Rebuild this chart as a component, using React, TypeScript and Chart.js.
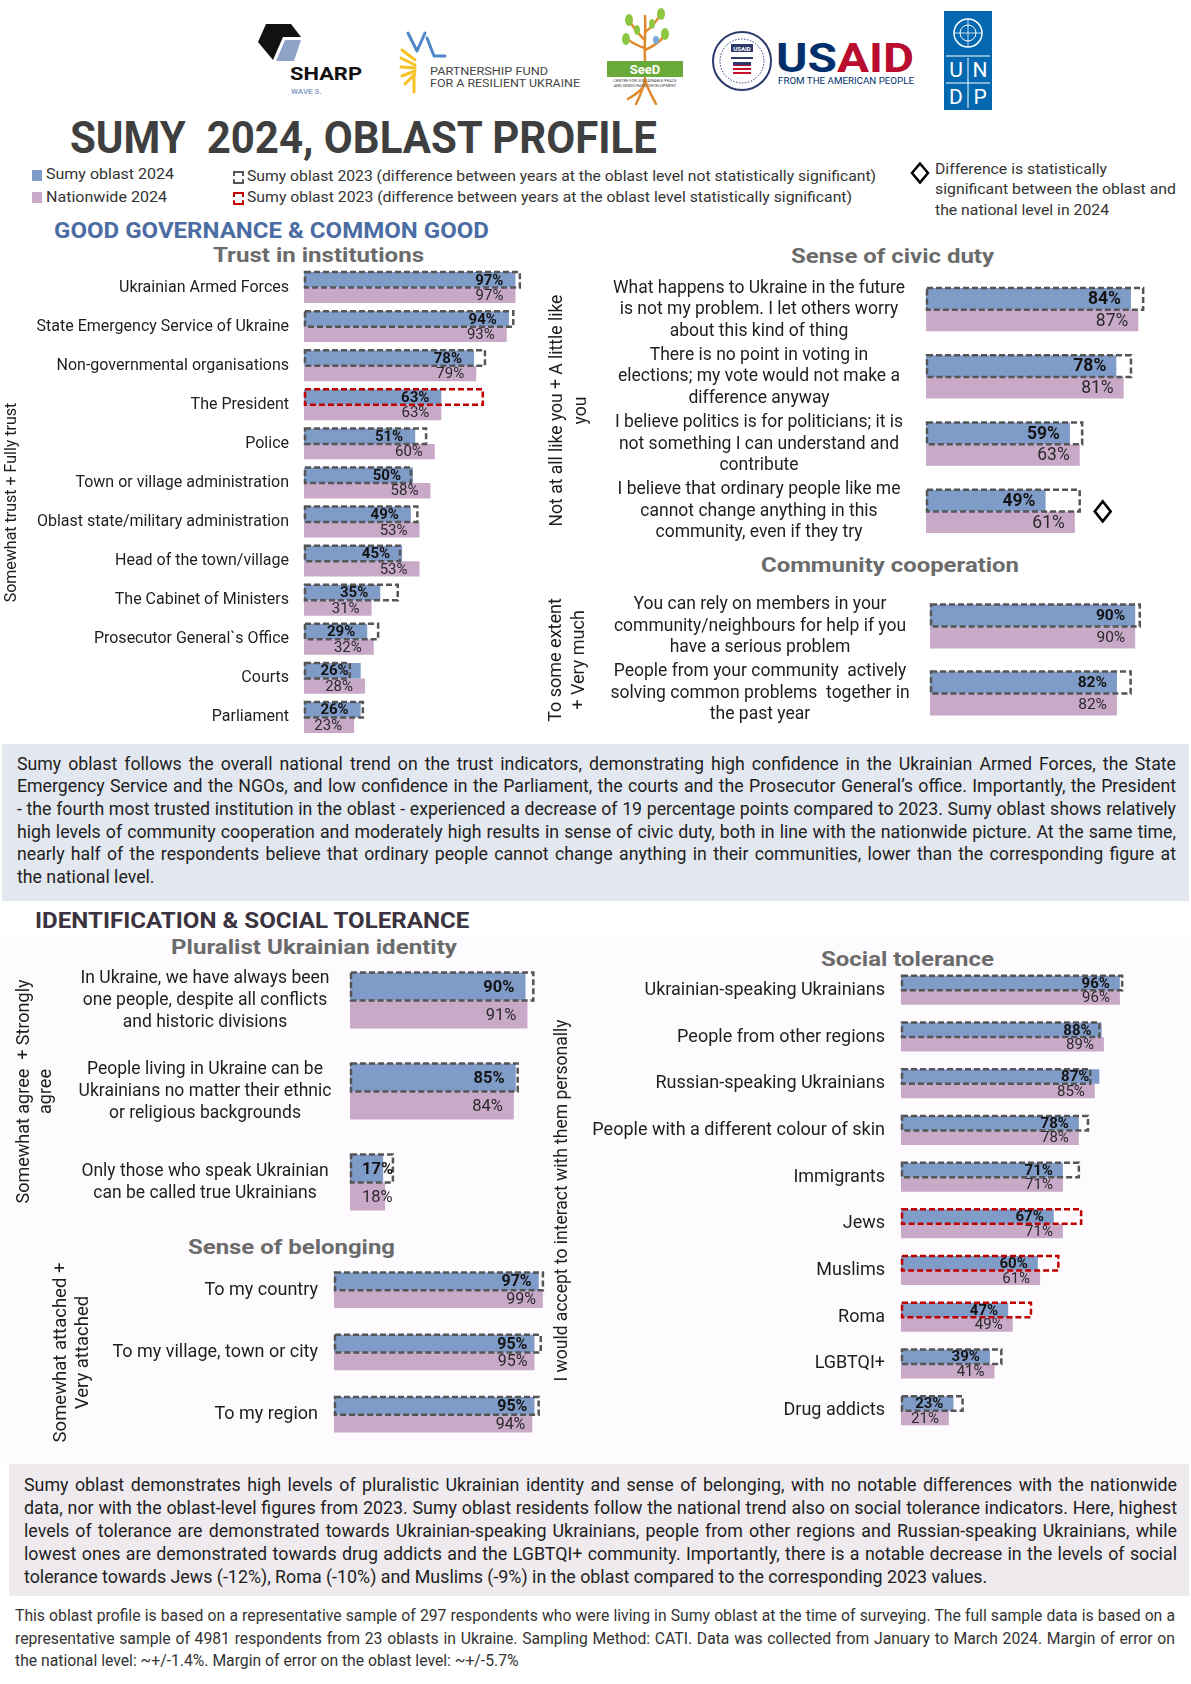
import React, { useEffect, useRef } from 'react';
import { Chart, registerables } from 'chart.js';

Chart.register(...registerables);

const FONT = 'Roboto, "Noto Sans", sans-serif';
Chart.defaults.font.family = FONT;

const BLUE = '#7f9bc8';
const PINK = '#c8a9c8';
const GREY_DASH = '#555555';
const RED_DASH = '#c00000';

// ---------- DATA ----------
const trustLabels = [
  'Ukrainian Armed Forces',
  'State Emergency Service of Ukraine',
  'Non-governmental organisations',
  'The President',
  'Police',
  'Town or village administration',
  'Oblast state/military administration',
  'Head of the town/village',
  'The Cabinet of Ministers',
  'Prosecutor General`s Office',
  'Courts',
  'Parliament',
];
const trustOblast2024 = [97, 94, 78, 63, 51, 50, 49, 45, 35, 29, 26, 26];
const trustNational2024 = [97, 93, 79, 63, 60, 58, 53, 53, 31, 32, 28, 23];
const trustOblast2023 = [99, 96, 83, 82, 56, 49, 52, 44, 43, 34, 21, 27];
const trustSignificant = [false, false, false, true, false, false, false, false, false, false, false, false];

const civicLabels = [
  ['What happens to Ukraine in the future', 'is not my problem. I let others worry', 'about this kind of thing'],
  ['There is no point in voting in', 'elections; my vote would not make a', 'difference anyway'],
  ['I believe politics is for politicians; it is', 'not something I can understand and', 'contribute'],
  ['I believe that ordinary people like me', 'cannot change anything in this', 'community, even if they try'],
];
const civicOblast2024 = [84, 78, 59, 49];
const civicNational2024 = [87, 81, 63, 61];
const civicOblast2023 = [89, 84, 64, 63];
const civicSignificant = [false, false, false, false];
const civicNationalDiff = [false, false, false, true];

const communityLabels = [
  ['You can rely on members in your', 'community/neighbours for help if you', 'have a serious problem'],
  ['People from your community  actively', 'solving common problems  together in', 'the past year'],
];
const communityOblast2024 = [90, 82];
const communityNational2024 = [90, 82];
const communityOblast2023 = [92, 88];
const communitySignificant = [false, false];

const identityLabels = [
  ['In Ukraine, we have always been', 'one people, despite all conflicts', 'and historic divisions'],
  ['People living in Ukraine can be', 'Ukrainians no matter their ethnic', 'or religious backgrounds'],
  ['Only those who speak Ukrainian', 'can be called true Ukrainians'],
];
const identityOblast2024 = [90, 85, 17];
const identityNational2024 = [91, 84, 18];
const identityOblast2023 = [94, 86, 22];
const identitySignificant = [false, false, false];

const belongingLabels = ['To my country', 'To my village, town or city', 'To my region'];
const belongingOblast2024 = [97, 95, 95];
const belongingNational2024 = [99, 95, 94];
const belongingOblast2023 = [99, 98, 97];
const belongingSignificant = [false, false, false];

const toleranceLabels = [
  'Ukrainian-speaking Ukrainians',
  'People from other regions',
  'Russian-speaking Ukrainians',
  'People with a different colour of skin',
  'Immigrants',
  'Jews',
  'Muslims',
  'Roma',
  'LGBTQI+',
  'Drug addicts',
];
const toleranceOblast2024 = [96, 88, 87, 78, 71, 67, 60, 47, 39, 23];
const toleranceNational2024 = [96, 89, 85, 78, 71, 71, 61, 49, 41, 21];
const toleranceOblast2023 = [97, 87, 83, 82, 78, 79, 69, 57, 44, 27];
const toleranceSignificant = [false, false, false, false, false, true, true, true, false, false];

const summary1 = [
  'Sumy oblast follows the overall national trend on the trust indicators, demonstrating high confidence in the Ukrainian Armed Forces, the State',
  'Emergency Service and the NGOs, and low confidence in the Parliament, the courts and the Prosecutor General\u2019s office. Importantly, the President',
  '- the fourth most trusted institution in the oblast - experienced a decrease of 19 percentage points compared to 2023. Sumy oblast shows relatively',
  'high levels of community cooperation and moderately high results in sense of civic duty, both in line with the nationwide picture. At the same time,',
  'nearly half of the respondents believe that ordinary people cannot change anything in their communities, lower than the corresponding figure at',
  'the national level.',
];
const summary2 = [
  'Sumy oblast demonstrates high levels of pluralistic Ukrainian identity and sense of belonging, with no notable differences with the nationwide',
  'data, nor with the oblast-level figures from 2023. Sumy oblast residents follow the national trend also on social tolerance indicators. Here, highest',
  'levels of tolerance are demonstrated towards Ukrainian-speaking Ukrainians, people from other regions and Russian-speaking Ukrainians, while',
  'lowest ones are demonstrated towards drug addicts and the LGBTQI+ community. Importantly, there is a notable decrease in the levels of social',
  'tolerance towards Jews (-12%), Roma (-10%) and Muslims (-9%) in the oblast compared to the corresponding 2023 values.',
];
const footer = [
  'This oblast profile is based on a representative sample of 297 respondents who were living in Sumy oblast at the time of surveying. The full sample data is based on a',
  'representative sample of 4981 respondents from 23 oblasts in Ukraine. Sampling Method: CATI. Data was collected from January to March 2024. Margin of error on',
  'the national level: ~+/-1.4%. Margin of error on the oblast level: ~+/-5.7%',
];

// ---------- helpers ----------
let measureCtx: CanvasRenderingContext2D | null = null;
function measure(text: string, font: string): number {
  if (!measureCtx && typeof document !== 'undefined') {
    measureCtx = document.createElement('canvas').getContext('2d');
  }
  if (!measureCtx) return text.length * 8;
  measureCtx.font = font;
  return measureCtx.measureText(text).width;
}

function FitText({ text, x, y, w, size, weight = 700, color = '#333', align = 'left' }: any) {
  const font = `${weight} ${size}px ${FONT}`;
  const nat = measure(text, font) || 1;
  const s = w / nat;
  const left = align === 'center' ? x - w / 2 : x;
  const h = size * 1.25;
  return (
    <div
      style={{
        position: 'absolute',
        left,
        top: y - h / 2,
        height: h,
        lineHeight: `${h}px`,
        fontSize: size,
        fontWeight: weight,
        color,
        whiteSpace: 'pre',
        transform: `scaleX(${s})`,
        transformOrigin: 'left center',
        fontFamily: FONT,
      }}
    >
      {text}
    </div>
  );
}

function JustLines({ lines, x, y, w, size, lh, lastLeft, color = '#1e1e1e' }: any) {
  const font = `400 ${size}px ${FONT}`;
  const maxW = Math.max(...lines.map((l: string) => measure(l, font)));
  const fs = maxW > w - 6 ? (size * (w - 6)) / maxW : size;
  return (
    <div style={{ position: 'absolute', left: x, top: y, width: w, fontSize: fs, lineHeight: `${lh}px`, color, fontFamily: FONT }}>
      {lines.map((l: string, i: number) => (
        <div
          key={i}
          style={{
            textAlign: 'justify',
            textAlignLast: lastLeft && i === lines.length - 1 ? 'left' : 'justify',
            height: lh,
            overflow: 'visible',
          }}
        >
          {l}
        </div>
      ))}
    </div>
  );
}

type PanelProps = {
  left: number;
  top: number;
  height: number;
  axisW: number;
  plotW: number;
  padR: number;
  labels: (string | string[])[];
  oblast: number[];
  national: number[];
  prev: number[];
  sig: boolean[];
  diamond?: boolean[];
  catPct: number;
  labelFont: number;
  labelLH: number;
  labelAlign: 'right' | 'center';
  labelX: number;
  valueFont: number;
  valueInset: number;
  title: string[];
  titleX: number;
  titleFont: number;
  titleLH: number;
};

function Panel(p: PanelProps) {
  const ref = useRef<HTMLCanvasElement | null>(null);
  const width = Math.round(p.axisW + p.plotW + p.padR);
  const height = Math.round(p.height);
  useEffect(() => {
    const canvas = ref.current;
    if (!canvas) return;
    const drawValue = (ctx: CanvasRenderingContext2D, txt: string, x0: number, xEnd: number, y: number) => {
      const tw = ctx.measureText(txt).width;
      if (xEnd - p.valueInset - tw < x0 + 4) {
        ctx.textAlign = 'left';
        ctx.fillText(txt, x0 + 12, y);
      } else {
        ctx.textAlign = 'right';
        ctx.fillText(txt, xEnd - p.valueInset, y);
      }
    };
    const overlay = {
      id: 'overlay',
      afterDatasetsDraw(chart: any) {
        const ctx = chart.ctx as CanvasRenderingContext2D;
        const xs = chart.scales.x;
        const ys = chart.scales.y;
        const m0 = chart.getDatasetMeta(0);
        const m1 = chart.getDatasetMeta(1);
        ctx.save();
        p.labels.forEach((lab, i) => {
          const b = m0.data[i];
          const n = m1.data[i];
          const bh = b.height;
          // 2023 dashed box
          const x0 = xs.getPixelForValue(0);
          const x1 = xs.getPixelForValue(p.prev[i]);
          ctx.setLineDash([6, 3]);
          ctx.lineWidth = 2.5;
          ctx.strokeStyle = p.sig[i] ? RED_DASH : GREY_DASH;
          ctx.strokeRect(x0 + 1, b.y - bh / 2, x1 - x0 - 1, bh);
          ctx.setLineDash([]);
          // values
          ctx.textBaseline = 'middle';
          ctx.font = `700 ${p.valueFont}px ${FONT}`;
          ctx.fillStyle = '#141414';
          drawValue(ctx, `${p.oblast[i]}%`, x0, b.x, b.y + 1);
          ctx.font = `400 ${p.valueFont}px ${FONT}`;
          ctx.fillStyle = '#2a2a2a';
          drawValue(ctx, `${p.national[i]}%`, x0, n.x, n.y + 1);
          // category label
          const lines = Array.isArray(lab) ? lab : [lab];
          const cy = ys.getPixelForValue(i);
          ctx.font = `400 ${p.labelFont}px ${FONT}`;
          ctx.fillStyle = '#1e1e1e';
          ctx.textAlign = p.labelAlign;
          const lx = p.labelX - p.left;
          lines.forEach((ln, k) => {
            ctx.fillText(ln, lx, cy + (k - (lines.length - 1) / 2) * p.labelLH);
          });
          // diamond
          if (p.diamond && p.diamond[i]) {
            const xm = xs.getPixelForValue(Math.max(p.prev[i], p.oblast[i], p.national[i])) + 23;
            const my = (b.y + n.y) / 2;
            ctx.beginPath();
            ctx.moveTo(xm, my - 10);
            ctx.lineTo(xm + 8, my);
            ctx.lineTo(xm, my + 10);
            ctx.lineTo(xm - 8, my);
            ctx.closePath();
            ctx.lineWidth = 2.5;
            ctx.strokeStyle = '#000';
            ctx.stroke();
          }
        });
        ctx.restore();
      },
    };
    const titleLinePx = p.titleFont * p.titleLH;
    const chart = new Chart(canvas, {
      type: 'bar',
      data: {
        labels: p.labels.map((l) => (Array.isArray(l) ? l.join(' ') : l)),
        datasets: [
          {
            label: 'Sumy oblast 2024',
            data: p.oblast,
            backgroundColor: BLUE,
            borderWidth: 0,
            barPercentage: 1,
            categoryPercentage: p.catPct,
          },
          {
            label: 'Nationwide 2024',
            data: p.national,
            backgroundColor: PINK,
            borderWidth: 0,
            barPercentage: 1,
            categoryPercentage: p.catPct,
          },
        ],
      },
      options: {
        indexAxis: 'y',
        animation: false,
        responsive: false,
        maintainAspectRatio: false,
        layout: { padding: { left: 0, right: p.padR, top: 0, bottom: 0 } },
        plugins: { legend: { display: false }, tooltip: { enabled: false } },
        scales: {
          x: { display: false, min: 0, max: 100 },
          y: {
            grid: { display: false, drawTicks: false },
            border: { display: false },
            ticks: { display: false },
            title: {
              display: true,
              text: p.title,
              color: '#1e1e1e',
              font: { size: p.titleFont, family: FONT, lineHeight: p.titleLH },
              padding: { top: Math.max(0, p.titleX - p.left - titleLinePx / 2), bottom: 0 },
            },
            afterFit: (s: any) => {
              s.width = p.axisW;
            },
          },
        },
      } as any,
      plugins: [overlay],
    });
    return () => chart.destroy();
  }, []);
  return <canvas ref={ref} width={width} height={height} style={{ position: 'absolute', left: p.left, top: p.top }} />;
}

function Logos() {
  return (
    <svg width={1191} height={120} style={{ position: 'absolute', left: 0, top: 0 }}>
      {/* SHARP */}
      <polygon points="266,24 291,24 301,37 283,37 273,60 258,42" fill="#111" />
      <polygon points="285,40 301,40 294,61 276,61" fill="#8ea3c8" />
      <text x={290} y={80} fontFamily={FONT} fontWeight={700} fontSize={19} fill="#111" textLength={72} lengthAdjust="spacingAndGlyphs">SHARP</text>
      <text x={291} y={94} fontFamily={FONT} fontWeight={700} fontSize={8} fill="#8ea3c8">WAVE 3.</text>
      {/* Partnership fund */}
      <g stroke="#f6c226" strokeWidth={3} strokeLinecap="round">
        <line x1={402} y1={50} x2={415} y2={60} />
        <line x1={401} y1={58} x2={415} y2={65} />
        <line x1={401} y1={67} x2={415} y2={68} />
        <line x1={402} y1={76} x2={415} y2={71} />
        <line x1={405} y1={84} x2={415} y2={74} />
        <line x1={414} y1={75} x2={414} y2={92} />
      </g>
      <g stroke="#4f86c6" strokeWidth={3} fill="none" strokeLinecap="round" strokeLinejoin="round">
        <polyline points="408,33 417,51 425,33" />
        <polyline points="427,38 434,56 445,56" />
      </g>
      <text x={430} y={75} fontFamily={FONT} fontSize={11} fill="#444" textLength={118} lengthAdjust="spacingAndGlyphs">PARTNERSHIP FUND</text>
      <text x={430} y={87} fontFamily={FONT} fontSize={11} fill="#444" textLength={150} lengthAdjust="spacingAndGlyphs">FOR A RESILIENT UKRAINE</text>
      {/* SeeD */}
      <g stroke="#e0892c" strokeWidth={2.5} fill="none" strokeLinecap="round">
        <path d="M645,60 C644,45 646,30 645,16" />
        <path d="M645,40 C638,34 634,28 630,22" />
        <path d="M645,32 C652,27 656,22 660,15" />
        <path d="M645,50 C654,46 660,42 664,36" />
        <path d="M645,48 C637,46 632,42 628,40" />
        <path d="M645,78 C644,88 640,96 636,104" />
        <path d="M645,80 C648,90 652,96 656,104" />
        <path d="M644,86 C640,92 633,96 628,99" />
      </g>
      <g fill="#8dc63f">
        <ellipse cx={629} cy={20} rx={4} ry={6} />
        <ellipse cx={661} cy={14} rx={4} ry={6} />
        <ellipse cx={665} cy={34} rx={4} ry={6} />
        <ellipse cx={626} cy={39} rx={4} ry={6} />
        <ellipse cx={652} cy={24} rx={3} ry={5} />
        <ellipse cx={637} cy={30} rx={3} ry={5} />
      </g>
      <g fill="#7aa7d8">
        <ellipse cx={656} cy={40} rx={3} ry={4} />
      </g>
      <rect x={607} y={61} width={76} height={16} fill="#6aaa3a" />
      <text x={645} y={74} textAnchor="middle" fontFamily={FONT} fontWeight={700} fontSize={13} fill="#fff">SeeD</text>
      <text x={645} y={82} textAnchor="middle" fontFamily={FONT} fontSize={4} fill="#444">CENTRE FOR SUSTAINABLE PEACE</text>
      <text x={645} y={87} textAnchor="middle" fontFamily={FONT} fontSize={4} fill="#444">AND DEMOCRATIC DEVELOPMENT</text>
      {/* USAID */}
      <circle cx={742} cy={61} r={29} fill="#fff" stroke="#2b3a6b" strokeWidth={2} />
      <circle cx={742} cy={61} r={22} fill="#fff" stroke="#2b3a6b" strokeWidth={1} strokeDasharray="1.5 1.5" />
      <rect x={731} y={44} width={22} height={8} fill="#2b3a6b" />
      <text x={742} y={50.5} textAnchor="middle" fontFamily={FONT} fontWeight={700} fontSize={6} fill="#fff">USAID</text>
      <path d="M731,58 L753,58" stroke="#2b3a6b" strokeWidth={2} />
      <rect x={733} y={64} width={18} height={12} fill="#c8102e" />
      <rect x={733} y={66} width={18} height={2} fill="#fff" />
      <rect x={733} y={70} width={18} height={2} fill="#fff" />
      <rect x={733} y={74} width={18} height={2} fill="#fff" />
      <rect x={733} y={62} width={18} height={3} fill="#2b3a6b" />
      <text x={776} y={72} fontFamily={FONT} fontWeight={700} fontSize={40} textLength={138} lengthAdjust="spacingAndGlyphs">
        <tspan fill="#002f6c">US</tspan>
        <tspan fill="#ba0c2f">AID</tspan>
      </text>
      <text x={778} y={84} fontFamily={FONT} fontSize={9.5} fill="#002f6c" textLength={136} lengthAdjust="spacingAndGlyphs">FROM THE AMERICAN PEOPLE</text>
      {/* UNDP */}
      <rect x={944} y={11} width={48} height={99} fill="#0468b1" />
      <circle cx={968} cy={33} r={14} fill="none" stroke="#fff" strokeWidth={1.5} />
      <circle cx={968} cy={33} r={8} fill="none" stroke="#fff" strokeWidth={1} />
      <line x1={954} y1={33} x2={982} y2={33} stroke="#fff" strokeWidth={0.8} />
      <line x1={968} y1={19} x2={968} y2={47} stroke="#fff" strokeWidth={0.8} />
      <line x1={946} y1={56} x2={990} y2={56} stroke="#fff" strokeWidth={1} />
      <line x1={946} y1={83} x2={990} y2={83} stroke="#fff" strokeWidth={1} />
      <line x1={968} y1={58} x2={968} y2={108} stroke="#fff" strokeWidth={1} />
      <g fontFamily={FONT} fontSize={21} fill="#fff" textAnchor="middle">
        <text x={956} y={77}>U</text>
        <text x={980} y={77}>N</text>
        <text x={956} y={104}>D</text>
        <text x={980} y={104}>P</text>
      </g>
    </svg>
  );
}

function Legend() {
  return (
    <>
      <div style={{ position: 'absolute', left: 32, top: 170, width: 10, height: 11, background: BLUE }} />
      <FitText text="Sumy oblast 2024" x={46} y={175} w={128} size={14.5} weight={400} />
      <div style={{ position: 'absolute', left: 32, top: 192, width: 10, height: 11, background: PINK }} />
      <FitText text="Nationwide 2024" x={46} y={198} w={121} size={14.5} weight={400} />
      <div style={{ position: 'absolute', left: 233, top: 171, width: 7, height: 9, border: `2px dashed ${GREY_DASH}` }} />
      <FitText
        text="Sumy oblast 2023 (difference between years at the oblast level not statistically significant)"
        x={247}
        y={177}
        w={629}
        size={14.5}
        weight={400}
      />
      <div style={{ position: 'absolute', left: 233, top: 192, width: 7, height: 9, border: `2px dashed ${RED_DASH}` }} />
      <FitText
        text="Sumy oblast 2023 (difference between years at the oblast level statistically significant)"
        x={247}
        y={198}
        w={605}
        size={14.5}
        weight={400}
      />
      <svg width={24} height={24} style={{ position: 'absolute', left: 909, top: 162 }}>
        <polygon points="11,1.5 19,11 11,20.5 3,11" fill="none" stroke="#000" strokeWidth={2.5} />
      </svg>
      <FitText text="Difference is statistically" x={935} y={170} w={172} size={14.5} weight={400} />
      <FitText text="significant between the oblast and" x={935} y={190} w={241} size={14.5} weight={400} />
      <FitText text="the national level in 2024" x={935} y={211} w={174} size={14.5} weight={400} />
    </>
  );
}

export default function App() {
  const sub = '#6b6b6b';
  return (
    <div
      style={{
        position: 'absolute',
        left: 0,
        top: 0,
        width: 1191,
        height: 1684,
        background: '#fff',
        overflow: 'hidden',
        fontFamily: FONT,
        color: '#222',
      }}
    >
      <div style={{ position: 'absolute', left: 0, top: 935, width: 1191, height: 529, background: '#fdfbfd' }} />
      <Logos />
      <FitText text="SUMY  2024, OBLAST PROFILE" x={70} y={138} w={588} size={44} weight={700} color="#3f3f3f" />
      <Legend />

      <FitText text="GOOD GOVERNANCE & COMMON GOOD" x={54} y={231} w={435} size={22} weight={700} color="#4c6ca4" />
      <FitText text="Trust in institutions" x={318} y={255} w={211} size={21} weight={700} color={sub} align="center" />
      <FitText text="Sense of civic duty" x={892} y={256} w={203} size={21} weight={700} color={sub} align="center" />
      <FitText text="Community cooperation" x={890} y={565} w={258} size={21} weight={700} color={sub} align="center" />

      <Panel
        left={0}
        top={267.5}
        height={469}
        axisW={304}
        plotW={218}
        padR={12}
        labels={trustLabels}
        oblast={trustOblast2024}
        national={trustNational2024}
        prev={trustOblast2023}
        sig={trustSignificant}
        catPct={0.79}
        labelFont={16}
        labelLH={18}
        labelAlign="right"
        labelX={289}
        valueFont={15}
        valueInset={12}
        title={['Somewhat trust + Fully trust']}
        titleX={12}
        titleFont={16}
        titleLH={1.2}
      />
      <Panel
        left={540}
        top={276}
        height={269}
        axisW={386}
        plotW={244}
        padR={20}
        labels={civicLabels}
        oblast={civicOblast2024}
        national={civicNational2024}
        prev={civicOblast2023}
        sig={civicSignificant}
        diamond={civicNationalDiff}
        catPct={0.64}
        labelFont={17.5}
        labelLH={21.5}
        labelAlign="center"
        labelX={759}
        valueFont={17.5}
        valueInset={10}
        title={['Not at all like you + A little like', 'you']}
        titleX={558}
        titleFont={17.5}
        titleLH={1.33}
      />
      <Panel
        left={540}
        top={592.5}
        height={134}
        axisW={390}
        plotW={228}
        padR={15}
        labels={communityLabels}
        oblast={communityOblast2024}
        national={communityNational2024}
        prev={communityOblast2023}
        sig={communitySignificant}
        catPct={0.66}
        labelFont={17.5}
        labelLH={21.5}
        labelAlign="center"
        labelX={760}
        valueFont={15.5}
        valueInset={10}
        title={['To some extent', '+ Very much']}
        titleX={556}
        titleFont={18}
        titleLH={1.3}
      />

      <div style={{ position: 'absolute', left: 2, top: 744, width: 1187, height: 157, background: '#e3e7ef' }} />
      <JustLines lines={summary1} x={17} y={752.6} w={1159} size={18} lh={22.7} lastLeft />

      <FitText text="IDENTIFICATION & SOCIAL TOLERANCE" x={35} y={921} w={435} size={22} weight={700} color="#3c3340" />
      <FitText text="Pluralist Ukrainian identity" x={314} y={947} w={286} size={21} weight={700} color={sub} align="center" />
      <FitText text="Social tolerance" x={907} y={959} w={173} size={21} weight={700} color={sub} align="center" />
      <FitText text="Sense of belonging" x={291} y={1247} w={207} size={21} weight={700} color={sub} align="center" />

      <Panel
        left={0}
        top={954.5}
        height={273}
        axisW={350}
        plotW={195}
        padR={15}
        labels={identityLabels}
        oblast={identityOblast2024}
        national={identityNational2024}
        prev={identityOblast2023}
        sig={identitySignificant}
        catPct={0.615}
        labelFont={17.5}
        labelLH={22}
        labelAlign="center"
        labelX={205}
        valueFont={16.5}
        valueInset={11}
        title={['Somewhat agree  + Strongly', 'agree']}
        titleX={24}
        titleFont={18}
        titleLH={1.26}
      />
      <Panel
        left={0}
        top={1259}
        height={187}
        axisW={334}
        plotW={211}
        padR={12}
        labels={belongingLabels}
        oblast={belongingOblast2024}
        national={belongingNational2024}
        prev={belongingOblast2023}
        sig={belongingSignificant}
        catPct={0.57}
        labelFont={18}
        labelLH={20}
        labelAlign="right"
        labelX={318}
        valueFont={16}
        valueInset={7}
        title={['Somewhat attached +', 'Very attached']}
        titleX={61}
        titleFont={18.5}
        titleLH={1.22}
      />
      <Panel
        left={540}
        top={966.7}
        height={467}
        axisW={361}
        plotW={228}
        padR={12}
        labels={toleranceLabels}
        oblast={toleranceOblast2024}
        national={toleranceNational2024}
        prev={toleranceOblast2023}
        sig={toleranceSignificant}
        catPct={0.62}
        labelFont={18}
        labelLH={19}
        labelAlign="right"
        labelX={885}
        valueFont={15}
        valueInset={10}
        title={['I would accept to interact with them personally']}
        titleX={563}
        titleFont={17.5}
        titleLH={1.2}
      />

      <div style={{ position: 'absolute', left: 9, top: 1464, width: 1180, height: 132, background: '#eeeaee' }} />
      <JustLines lines={summary2} x={24} y={1472.5} w={1153} size={18} lh={23} lastLeft />

      <JustLines lines={footer} x={15} y={1605} w={1160} size={16} lh={22.5} lastLeft color="#333" />
    </div>
  );
}
